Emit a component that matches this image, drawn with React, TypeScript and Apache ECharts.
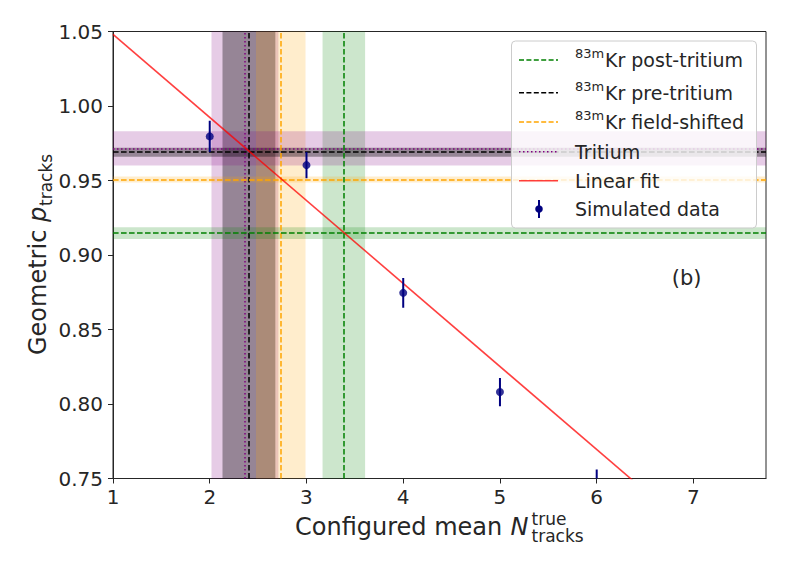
import React, { useEffect, useRef } from "react";
import * as echarts from "echarts";

// ---- data ----
const xTicks = [1, 2, 3, 4, 5, 6, 7];
const yTicks = [0.75, 0.8, 0.85, 0.9, 0.95, 1.0, 1.05];

// simulated data points (x, y, error)
const simX = [2, 3, 4, 5, 6];
const simY = [0.9796, 0.9603, 0.8746, 0.808, 0.746];
const simErr = [0.0105, 0.0088, 0.010, 0.0095, 0.010];

// linear fit end points
const fitX = [1, 7.75];
const fitY = [1.048, 0.672];

// reference measurements: order = post-tritium, pre-tritium, field-shifted, tritium
const refNames = ["83mKr post-tritium", "83mKr pre-tritium", "83mKr field-shifted", "Tritium"];
const refX = [3.386, 2.405, 2.734, 2.364];
const refXErr = [0.22, 0.273, 0.256, 0.346];
const refY = [0.9147, 0.969, 0.9507, 0.9715];
const refYErr = [0.004, 0.003, 0.002, 0.0115];

// ---- styles ----
const FONT = "DejaVu Sans";
const TXT = "#262626";
const refLineColor = ["#008000", "#000000", "#FFA500", "#800080"];
const refBandColor = [
  "rgba(0,128,0,0.2)",
  "rgba(0,0,0,0.35)",
  "rgba(255,165,0,0.2)",
  "rgba(128,0,128,0.2)",
];
const refDash: any[] = [[5.6, 2.4], [5.6, 2.4], [5.6, 2.4], [1.5, 2.5]];
const FIT_COLOR = "rgba(255,0,0,0.75)";

export default function App() {
  const ref = useRef<HTMLDivElement>(null);
  useEffect(() => {
    if (!ref.current) return;
    const chart = echarts.init(ref.current, undefined, { renderer: "svg" });

    const bandOrder = [3, 1, 2, 0];
    const areas: any[] = [];
    bandOrder.forEach((i) => {
      areas.push([
        { xAxis: refX[i] - refXErr[i], itemStyle: { color: refBandColor[i] } },
        { xAxis: refX[i] + refXErr[i] },
      ]);
    });
    bandOrder.forEach((i) => {
      areas.push([
        { yAxis: refY[i] - refYErr[i], itemStyle: { color: refBandColor[i] } },
        { yAxis: refY[i] + refYErr[i] },
      ]);
    });

    const lineSeries: any[] = bandOrder.map((i) => ({
      type: "line",
      name: refNames[i],
      data: [],
      markLine: {
        silent: true,
        symbol: "none",
        precision: 6,
        label: { show: false },
        animation: false,
        lineStyle: { color: refLineColor[i], type: refDash[i], width: 1.5, cap: "butt" },
        data: [{ xAxis: refX[i] }, { yAxis: refY[i] }],
      },
    }));

    const legendRows = [
      { sup: "83m", text: "Kr post-tritium", y: 60, kind: "line", color: "#008000", dash: [5, 2.4] },
      { sup: "83m", text: "Kr pre-tritium", y: 92.7, kind: "line", color: "#000000", dash: [5, 2.4] },
      { sup: "83m", text: "Kr field-shifted", y: 122, kind: "line", color: "#FFA500", dash: [5, 2.4] },
      { sup: "", text: "Tritium", y: 151.7, kind: "line", color: "#800080", dash: [1.5, 2.5] },
      { sup: "", text: "Linear fit", y: 180.7, kind: "line", color: FIT_COLOR, dash: null },
      { sup: "", text: "Simulated data", y: 209, kind: "err", color: "#000080", dash: null },
    ];
    const Z = 100;
    const legendChildren: any[] = [
      {
        type: "rect",
        z: Z,
        shape: { x: 511.5, y: 41, width: 245, height: 187, r: 4 },
        style: { fill: "rgba(255,255,255,0.8)", stroke: "#cccccc", lineWidth: 1 },
      },
    ];
    legendRows.forEach((r) => {
      if (r.kind === "line") {
        legendChildren.push({
          type: "line",
          z: Z + 1,
          shape: { x1: 519, y1: r.y, x2: 558, y2: r.y },
          style: { stroke: r.color, lineWidth: 1.5, lineDash: r.dash || undefined },
        });
      } else {
        legendChildren.push({
          type: "line",
          z: Z + 1,
          shape: { x1: 539, y1: r.y - 9, x2: 539, y2: r.y + 9 },
          style: { stroke: r.color, lineWidth: 2 },
        });
        legendChildren.push({
          type: "circle",
          z: Z + 2,
          shape: { cx: 539, cy: r.y, r: 3.8 },
          style: { fill: r.color },
        });
      }
      if (r.sup) {
        legendChildren.push({
          type: "text",
          z: Z + 1,
          x: 575,
          y: r.y - 6.5,
          style: { text: r.sup, font: `13px '${FONT}'`, fill: TXT, verticalAlign: "middle", align: "left" },
        });
        legendChildren.push({
          type: "text",
          z: Z + 1,
          x: 605,
          y: r.y,
          style: { text: r.text, font: `19px '${FONT}'`, fill: TXT, verticalAlign: "middle", align: "left" },
        });
      } else {
        legendChildren.push({
          type: "text",
          z: Z + 1,
          x: 575,
          y: r.y,
          style: { text: r.text, font: `19px '${FONT}'`, fill: TXT, verticalAlign: "middle", align: "left" },
        });
      }
    });

    const option: any = {
      animation: false,
      backgroundColor: "#ffffff",
      grid: {
        left: 113,
        right: 23,
        top: 31.5,
        bottom: 91.5,
        show: true,
        borderColor: TXT,
        borderWidth: 1,
        backgroundColor: "transparent",
      },
      xAxis: {
        type: "value",
        min: 1,
        max: 7.75,
        interval: 1,
        splitLine: { show: false },
        axisLine: { show: true, onZero: false, lineStyle: { color: TXT, width: 1 } },
        axisTick: { show: true, inside: false, length: 5, lineStyle: { color: TXT, width: 1 }, customValues: xTicks },
        axisLabel: {
          color: TXT,
          fontSize: 20,
          fontFamily: FONT,
          margin: 8,
          customValues: xTicks,
          formatter: (v: number) => String(v),
        },
      },
      yAxis: {
        type: "value",
        min: 0.75,
        max: 1.05,
        interval: 0.05,
        splitLine: { show: false },
        axisLine: { show: true, onZero: false, lineStyle: { color: TXT, width: 1 } },
        axisTick: { show: true, inside: false, length: 5, lineStyle: { color: TXT, width: 1 }, customValues: yTicks },
        axisLabel: {
          color: TXT,
          fontSize: 20,
          fontFamily: FONT,
          margin: 10,
          customValues: yTicks,
          formatter: (v: number) => v.toFixed(2),
        },
      },
      series: [
        {
          type: "line",
          name: "bands",
          data: [],
          markArea: { silent: true, animation: false, data: areas },
        },
        ...lineSeries,
        {
          type: "line",
          name: "Linear fit",
          data: fitX.map((x, i) => [x, fitY[i]]),
          showSymbol: false,
          symbol: "none",
          clip: true,
          lineStyle: { color: FIT_COLOR, width: 1.6 },
          z: 5,
        },
        {
          type: "custom",
          name: "Simulated data errors",
          clip: true,
          z: 6,
          data: simX.map((x, i) => [x, simY[i], simErr[i]]),
          encode: { x: 0, y: 1 },
          renderItem: (params: any, api: any) => {
            const x = api.value(0);
            const y = api.value(1);
            const e = api.value(2);
            const p1 = api.coord([x, y - e]);
            const p2 = api.coord([x, y + e]);
            return {
              type: "line",
              shape: { x1: p1[0], y1: p1[1], x2: p2[0], y2: p2[1] },
              style: { stroke: "#000080", lineWidth: 2 },
            };
          },
        },
        {
          type: "scatter",
          name: "Simulated data",
          data: simX.map((x, i) => [x, simY[i]]),
          symbol: "circle",
          symbolSize: 8,
          clip: true,
          itemStyle: { color: "#000080" },
          z: 7,
        },
      ],
      graphic: [
        ...legendChildren,
        {
          type: "text",
          z: Z,
          x: 686.7,
          y: 277.5,
          style: { text: "(b)", font: `21px '${FONT}'`, fill: TXT, align: "center", verticalAlign: "middle" },
        },
        // x-axis title
        {
          type: "text",
          z: Z,
          x: 295,
          y: 526.7,
          style: { text: "Configured mean", font: `24px '${FONT}'`, fill: TXT, align: "left", verticalAlign: "middle" },
        },
        {
          type: "text",
          z: Z,
          x: 510.5,
          y: 526.7,
          style: { text: "N", font: `italic 24px '${FONT}'`, fill: TXT, align: "left", verticalAlign: "middle" },
        },
        {
          type: "text",
          z: Z,
          x: 531.5,
          y: 519.3,
          style: { text: "true", font: `17px '${FONT}'`, lineHeight: 15, fill: TXT, align: "left", verticalAlign: "middle" },
        },
        {
          type: "text",
          z: Z,
          x: 531.5,
          y: 535.6,
          style: { text: "tracks", font: `17px '${FONT}'`, lineHeight: 15, fill: TXT, align: "left", verticalAlign: "middle" },
        },
        // y-axis title (rotated)
        {
          type: "group",
          x: 46,
          y: 355,
          rotation: Math.PI / 2,
          children: [
            {
              type: "text",
              z: Z,
              x: 0,
              y: -8.3,
              style: { text: "Geometric", font: `24px '${FONT}'`, fill: TXT, align: "left", verticalAlign: "middle" },
            },
            {
              type: "text",
              z: Z,
              x: 133,
              y: -8.3,
              style: { text: "p", font: `italic 24px '${FONT}'`, fill: TXT, align: "left", verticalAlign: "middle" },
            },
            {
              type: "text",
              z: Z,
              x: 149,
              y: 0.1,
              style: { text: "tracks", font: `17px '${FONT}'`, fill: TXT, align: "left", verticalAlign: "middle" },
            },
          ],
        },
      ],
    };
    chart.setOption(option);
    return () => chart.dispose();
  }, []);
  return (
    <div
      ref={ref}
      style={{ position: "fixed", left: 0, top: 0, width: 789, height: 570, background: "#fff" }}
    />
  );
}
